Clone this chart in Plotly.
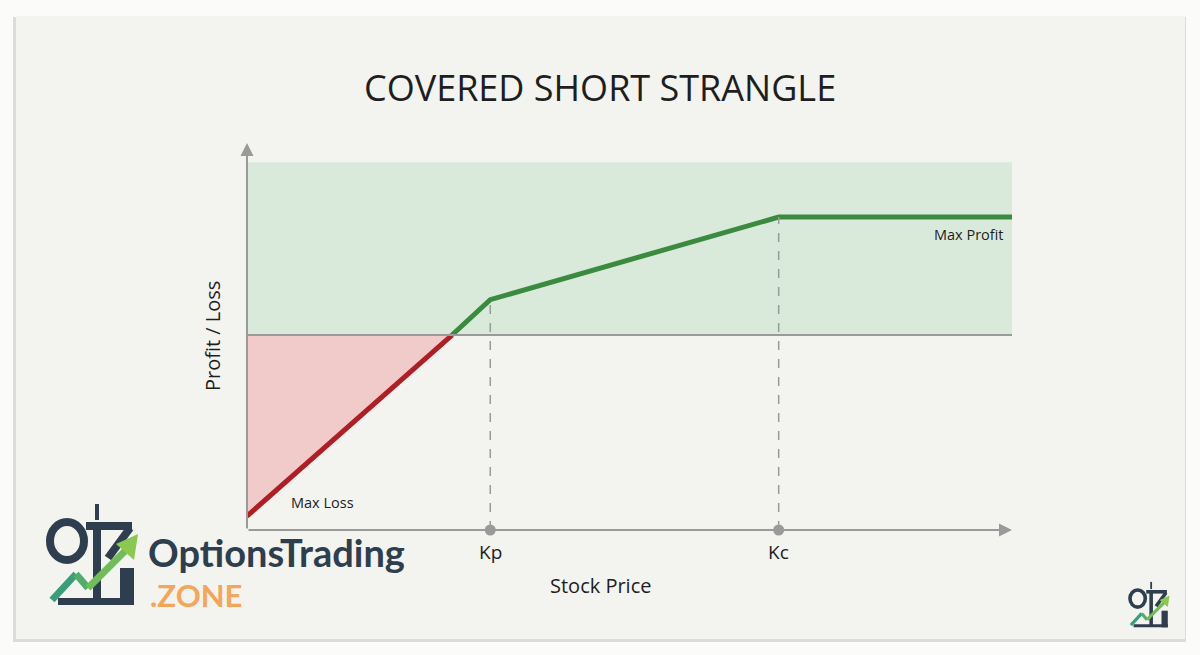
import plotly.graph_objects as go

# ---------------- data ----------------
stock_price = [0, 26.8, 31.8, 69.5, 100]      # x: start, breakeven, Kp, Kc, end
profit_loss = [-61.4, 0, 12, 40, 40]          # payoff at those prices
loss_x = stock_price[:2]
loss_y = profit_loss[:2]
gain_x = stock_price[1:]
gain_y = profit_loss[1:]
strike_names = ["Kp", "Kc"]
strike_x = [31.8, 69.5]
strike_y = [12, 40]
max_profit = 40
profit_zone_top = 58.6
x_range = [0, 100]
y_range = [-66.1, 65.1]

W, H = 1200, 655
L, R, T, B = 247, 1012, 143, 530   # plot area in pixels

def px(x):   # pixel -> paper x
    return (x - L) / (R - L)

def py(y):   # pixel -> paper y
    return (B - y) / (B - T)

AX = "#9a9a9a"
DARK = "#2f3e4e"
FONT = "Open Sans"
TXT = "#1e1e1e"

fig = go.Figure()

# profit zone
fig.add_shape(type="rect", xref="x", yref="y", x0=x_range[0], x1=x_range[1],
              y0=0, y1=profit_zone_top, fillcolor="#d9eadb", line_width=0, layer="below")

# loss fill
fig.add_trace(go.Scatter(x=loss_x, y=loss_y, mode="lines", fill="tozeroy",
                         fillcolor="rgba(240,190,190,0.75)", line=dict(width=0),
                         hoverinfo="skip", showlegend=False))

# zero line
fig.add_shape(type="line", xref="x", yref="y", x0=x_range[0], x1=x_range[1], y0=0, y1=0,
              line=dict(color=AX, width=2))

# dashed strike lines
for sx, sy in zip(strike_x, strike_y):
    fig.add_shape(type="line", xref="x", yref="y", x0=sx, x1=sx, y0=y_range[0], y1=sy,
                  line=dict(color=AX, width=1.5, dash="dash"))

# payoff lines
fig.add_trace(go.Scatter(x=loss_x, y=loss_y, mode="lines",
                         line=dict(color="#b01e25", width=5), hoverinfo="skip", showlegend=False))
fig.add_trace(go.Scatter(x=gain_x, y=gain_y, mode="lines",
                         line=dict(color="#3a8a40", width=5), hoverinfo="skip", showlegend=False))

# strike dots on the x axis
fig.add_trace(go.Scatter(x=strike_x, y=[y_range[0]] * 2, mode="markers",
                         marker=dict(color=AX, size=11),
                         cliponaxis=False, hoverinfo="skip", showlegend=False))
for name, sx in zip(strike_names, strike_x):
    fig.add_annotation(xref="x", yref="paper", x=sx, y=py(552), text=name, showarrow=False,
                       xanchor="center", yanchor="middle",
                       font=dict(family=FONT, size=19, color=TXT))

# axes with arrows
fig.add_annotation(xref="x domain", yref="y domain", x=1.0, y=0, ax=0, ay=0,
                   axref="x domain", ayref="y domain", showarrow=True, arrowhead=2,
                   arrowsize=1.3, arrowwidth=2, arrowcolor=AX, text="")
fig.add_annotation(xref="x domain", yref="y domain", x=0, y=1.0, ax=0, ay=0,
                   axref="x domain", ayref="y domain", showarrow=True, arrowhead=2,
                   arrowsize=1.3, arrowwidth=2, arrowcolor=AX, text="")

# labels
fig.add_annotation(xref="x", yref="y", x=loss_x[0] + 5.5, y=loss_y[0] + 4.5, text="Max Loss",
                   showarrow=False, xanchor="left", yanchor="middle",
                   font=dict(family=FONT, size=14.5, color=TXT))
fig.add_annotation(xref="x", yref="y", x=x_range[1] - 0.8, y=max_profit - 6, text="Max Profit",
                   showarrow=False, xanchor="right", yanchor="middle",
                   font=dict(family=FONT, size=14.5, color=TXT))
fig.add_annotation(xref="paper", yref="paper", x=px(600), y=py(585), text="Stock Price",
                   showarrow=False, xanchor="center", yanchor="middle",
                   font=dict(family=FONT, size=20, color=TXT))
fig.add_annotation(xref="paper", yref="paper", x=px(212), y=py(336), text="Profit / Loss",
                   textangle=-90, showarrow=False, xanchor="center", yanchor="middle",
                   font=dict(family=FONT, size=20, color=TXT))
fig.add_annotation(xref="paper", yref="paper", x=px(600), y=py(88), text="COVERED SHORT STRANGLE",
                   showarrow=False, xanchor="center", yanchor="middle",
                   font=dict(family=FONT, size=36, color=TXT))

# ---------------- card background ----------------
fig.add_shape(type="rect", xref="paper", yref="paper", x0=px(13), x1=px(1186), y0=py(642), y1=py(17),
              fillcolor="#dcdcd8", line_width=0, layer="below")
fig.add_shape(type="rect", xref="paper", yref="paper", x0=px(16), x1=px(1185), y0=py(639), y1=py(16),
              fillcolor="#f3f3ef", line_width=0, layer="below")

# ---------------- logo ----------------
def logo(ox, oy, s):
    def P(x, y):
        return px(ox + x * s), py(oy + y * s)
    shapes = []
    # O ring
    x0, y0 = P(0, 0); x1, y1 = P(34, 38)
    shapes.append(dict(type="circle", x0=x0, x1=x1, y0=y1, y1=y0,
                       line=dict(color=DARK, width=8 * s), fillcolor="rgba(0,0,0,0)"))
    # stick on top
    x0, y0 = P(45, -18); x1, y1 = P(49, -2)
    shapes.append(dict(type="rect", x0=x0, x1=x1, y0=y1, y1=y0, fillcolor=DARK, line=dict(width=0)))
    # T bar
    x0, y0 = P(36, 0); x1, y1 = P(82, 8)
    shapes.append(dict(type="rect", x0=x0, x1=x1, y0=y1, y1=y0, fillcolor=DARK, line=dict(width=0)))
    # stem
    x0, y0 = P(43, 0); x1, y1 = P(51, 78)
    shapes.append(dict(type="rect", x0=x0, x1=x1, y0=y1, y1=y0, fillcolor=DARK, line=dict(width=0)))
    # Z diagonal
    a = P(80, 6); b = P(58, 36)
    shapes.append(dict(type="line", x0=a[0], y0=a[1], x1=b[0], y1=b[1],
                       line=dict(color=DARK, width=8 * s)))
    # base L
    x0, y0 = P(70, 46); x1, y1 = P(84, 83)
    shapes.append(dict(type="rect", x0=x0, x1=x1, y0=y1, y1=y0, fillcolor=DARK, line=dict(width=0)))
    x0, y0 = P(8, 76); x1, y1 = P(84, 83)
    shapes.append(dict(type="rect", x0=x0, x1=x1, y0=y1, y1=y0, fillcolor=DARK, line=dict(width=0)))
    # green arrow
    pts = [P(2, 78), P(26, 52), P(38, 66), P(78, 26)]
    cols = ["#3a9e7c", "#52ad6c", "#72bd5a"]
    for i in range(3):
        shapes.append(dict(type="line", x0=pts[i][0], y0=pts[i][1], x1=pts[i + 1][0], y1=pts[i + 1][1],
                           line=dict(color=cols[i], width=7 * s)))
    h1, h2, h3 = P(88, 12), P(66, 22), P(84, 38)
    shapes.append(dict(type="path",
                       path=f"M {h1[0]} {h1[1]} L {h2[0]} {h2[1]} L {h3[0]} {h3[1]} Z",
                       fillcolor="#8cc850", line=dict(width=0)))
    for sh in shapes:
        sh.update(xref="paper", yref="paper")
        fig.add_shape(**sh)

logo(50, 522, 1.0)
logo(1130, 590, 0.45)

fig.add_annotation(xref="paper", yref="paper", x=px(146), y=py(552), text="<b>OptionsTrading</b>",
                   xanchor="left", yanchor="middle", showarrow=False,
                   font=dict(family="Lato", size=38, color=DARK))
fig.add_annotation(xref="paper", yref="paper", x=px(148), y=py(595), text="<b>.ZONE</b>",
                   xanchor="left", yanchor="middle", showarrow=False,
                   font=dict(family="Lato", size=31, color="#f4a65a"))

fig.update_xaxes(range=x_range, visible=False, fixedrange=True)
fig.update_yaxes(range=y_range, visible=False, fixedrange=True)
fig.update_layout(width=W, height=H, margin=dict(l=L, r=W - R, t=T, b=H - B),
                  paper_bgcolor="#fbfbfa", plot_bgcolor="rgba(0,0,0,0)", showlegend=False)

fig.write_html("out.html", config={"displayModeBar": False},
               post_script="document.body.style.margin='0';document.body.style.overflow='hidden';")
